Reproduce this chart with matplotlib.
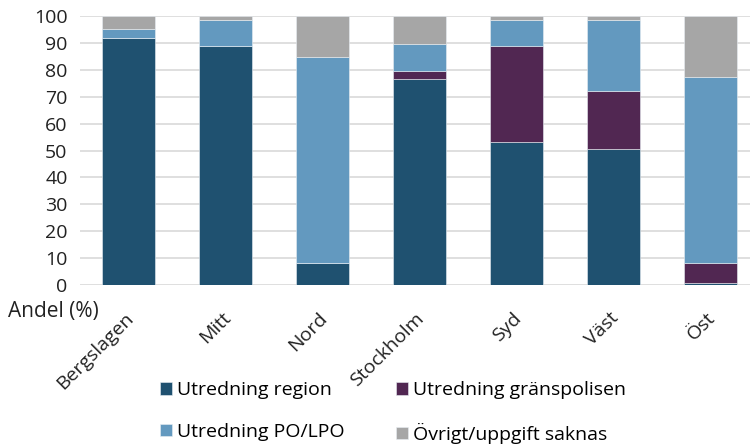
import matplotlib
matplotlib.use("Agg")
import matplotlib.pyplot as plt
import matplotlib.transforms as mtransforms
import numpy as np

plt.rcParams['font.family'] = ['Open Sans', 'DejaVu Sans']

categories = ["Bergslagen", "Mitt", "Nord", "Stockholm", "Syd", "Väst", "Öst"]
region = [92.0, 89.0, 8.0, 76.7, 53.0, 50.7, 0.9]
granspolisen = [0.0, 0.0, 0.0, 3.0, 36.0, 21.3, 7.2]
po_lpo = [3.0, 9.6, 76.6, 9.8, 9.6, 26.6, 69.3]
ovrigt = [5.0, 1.4, 15.4, 10.5, 1.4, 1.4, 22.6]

series = [
    ("Utredning region", region, "#1f5170"),
    ("Utredning gränspolisen", granspolisen, "#512752"),
    ("Utredning PO/LPO", po_lpo, "#6399bf"),
    ("Övrigt/uppgift saknas", ovrigt, "#a6a6a6"),
]

fig = plt.figure(figsize=(7.5, 4.45), dpi=100)
ax = fig.add_axes([80/750, 1-285/445, 1-80/750, (285-16)/445])

x = np.arange(len(categories))
bottom = np.zeros(len(categories))
handles = []
for name, vals, col in series:
    b = ax.bar(x, vals, 0.55, bottom=bottom, color=col, label=name,
               edgecolor="#e8eef3", linewidth=0.4, zorder=3)
    handles.append(b)
    bottom += np.array(vals)

ax.set_ylim(0, 100)
ax.set_xlim(-0.5, 6.41)
ax.set_yticks(range(0, 101, 10))
ax.yaxis.grid(True, color="#d9d9d9", linewidth=1.2, zorder=0)
ax.set_axisbelow(True)
for s in ax.spines.values():
    s.set_visible(False)
ax.tick_params(axis='both', length=0, labelsize=14, colors="#222222")
ax.tick_params(axis='y', pad=9)
ax.tick_params(axis='x', pad=0)
ax.set_xticks(x)
ax.set_xticklabels(categories, rotation=45, ha='right', va='top', rotation_mode='anchor')
offset = mtransforms.ScaledTranslation(-4/100, -24/100, fig.dpi_scale_trans)
for lab in ax.get_xticklabels():
    lab.set_transform(lab.get_transform() + offset)

fig.text(8/750, 1-312/445, "Andel (%)", fontsize=15, va='center', ha='left', color="#222222")

order = [0, 2, 1, 3]
fig.legend(handles=[handles[i] for i in order], labels=[series[i][0] for i in order], ncol=2,
           loc='center left', bbox_to_anchor=(160/750, 1-412.5/445), frameon=False,
           fontsize=14, handlelength=0.62, handleheight=0.62, handletextpad=0.26,
           columnspacing=2.63, labelspacing=1.21, borderpad=0, borderaxespad=0)

fig.savefig("out.png", dpi=100)
